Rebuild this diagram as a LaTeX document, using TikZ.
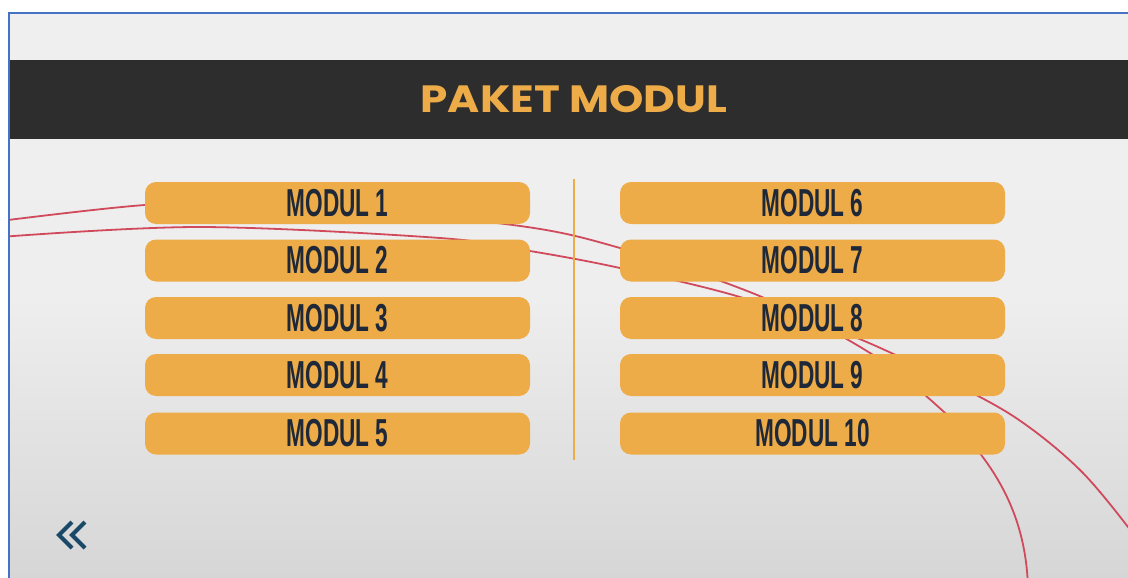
\documentclass[tikz,border=0pt]{standalone}
\usepackage{fontspec}
\setmainfont{Liberation Sans}
\newfontfamily\titlefont{Poppins}
\definecolor{gold}{HTML}{EDAC48}
\definecolor{barcol}{HTML}{2D2D2D}
\definecolor{navy}{HTML}{1E2838}
\definecolor{curvecol}{HTML}{D04A5C}
\definecolor{framecol}{HTML}{4472C4}
\definecolor{chev}{HTML}{1A4868}
\definecolor{bgtop}{HTML}{EFEFEF}
\definecolor{bgbot}{HTML}{D6D6D6}
\newcommand{\modlabel}[1]{\scalebox{0.58}[1]{\fontsize{39}{39}\selectfont\bfseries #1}}
\tikzset{
  modbox/.style={fill=gold, rounded corners=11pt, minimum width=385pt, minimum height=42pt, inner sep=0pt, text=navy},
  curve/.style={draw=curvecol, line width=1.8pt},
  chevron/.style={draw=chev, line width=4pt, miter limit=10},
}
\begin{document}
\begin{tikzpicture}[x=1pt,y=-1pt]
\useasboundingbox (0,0) rectangle (1128,578);
\fill[white] (0,0) rectangle (1128,578);
\shade[top color=bgtop, bottom color=bgbot, middle color=bgtop!97!bgbot] (9,13) rectangle (1128,578);
\fill[barcol] (9,60) rectangle (1128,139);
\node[text=gold] (title) at (574,99) {\scalebox{1.15}[1]{\titlefont\bfseries\fontsize{38}{38}\selectfont PAKET MODUL}};

\begin{scope}
\clip (9,13) rectangle (1128,578);
\draw[curve] plot[smooth, tension=0.55] coordinates {(0,221) (145,205) (260,203) (505,224) (620,248) (762,297) (870,353) (944,412) (982,456)};
\draw[curve] (982,456) .. controls (1006,488) and (1027,530) .. (1028,590);
\draw[curve] plot[smooth, tension=0.55] coordinates {(0,237) (200,227) (440,238) (530,251) (620,268) (740,297) (862,340) (980,397) (1033,430) (1083,473) (1128,527) (1150,560)};
\end{scope}

\draw[gold, line width=2.2pt] (574,179) coordinate (vtop) -- (574,460) coordinate (vbot);

\node[modbox] (m1) at (337.5,203) {\modlabel{MODUL 1}};
\node[modbox] (m2) at (337.5,260.5) {\modlabel{MODUL 2}};
\node[modbox] (m3) at (337.5,318) {\modlabel{MODUL 3}};
\node[modbox] (m4) at (337.5,375) {\modlabel{MODUL 4}};
\node[modbox] (m5) at (337.5,433.5) {\modlabel{MODUL 5}};
\node[modbox] (m6) at (812.5,203) {\modlabel{MODUL 6}};
\node[modbox] (m7) at (812.5,260.5) {\modlabel{MODUL 7}};
\node[modbox] (m8) at (812.5,318) {\modlabel{MODUL 8}};
\node[modbox] (m9) at (812.5,375) {\modlabel{MODUL 9}};
\node[modbox] (m10) at (812.5,433.5) {\modlabel{MODUL 10}};

\draw[chevron] (72,522) -- (59,535) -- (72,548);
\draw[chevron] (85,522) -- (72,535) -- (85,548);

\draw[framecol, line width=1.8pt] (9,578) -- (9,13) -- (1128,13);
\end{tikzpicture}
\end{document}
